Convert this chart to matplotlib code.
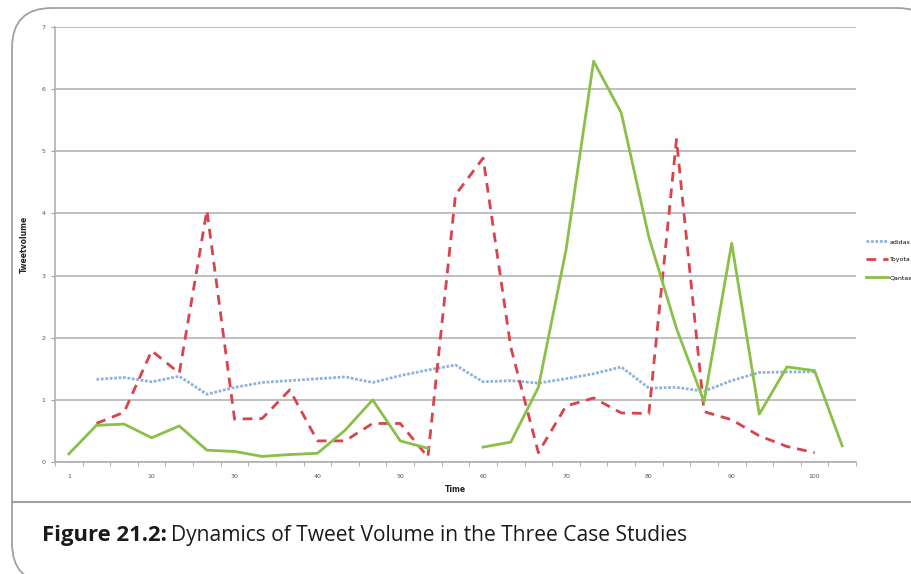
import matplotlib.pyplot as plt
import numpy as np
from matplotlib.patches import FancyBboxPatch

# data (29 time steps, None = no value)
tick_labels = ["1", "10", "30", "40", "50", "60", "70", "80", "90", "100"]
adidas = [None, 1.33, 1.36, 1.29, 1.38, 1.09, 1.20, 1.28, 1.31, 1.34,
          1.37, 1.28, 1.39, 1.48, 1.56, 1.29, 1.31, 1.27, 1.34, 1.42,
          1.53, 1.19, 1.20, 1.14, 1.31, 1.44, 1.45, 1.45, None]
toyota = [None, 0.62, 0.80, 1.79, 1.43, 4.05, 0.69, 0.70, 1.16, 0.34,
          0.34, 0.62, 0.62, 0.08, 4.30, 4.89, 1.85, 0.15, 0.90, 1.03,
          0.79, 0.78, 5.19, 0.81, 0.68, 0.42, 0.25, 0.15, None]
qantas = [0.13, 0.59, 0.61, 0.39, 0.58, 0.19, 0.17, 0.09, 0.12, 0.14,
          0.51, 1.00, 0.34, 0.22, None, 0.24, 0.32, 1.20, 3.41, 6.45,
          5.62, 3.62, 2.15, 0.97, 3.52, 0.77, 1.53, 1.47, 0.26]

def arr(v):
    return np.array([np.nan if a is None else a for a in v], dtype=float)

W, H = 912, 574
fig = plt.figure(figsize=(W / 100, H / 100), dpi=100)

# page frame + caption
bg = fig.add_axes([0, 0, 1, 1])
bg.set_xlim(0, W)
bg.set_ylim(H, 0)
bg.axis("off")
bg.add_patch(FancyBboxPatch((12, 8), 925, 575, boxstyle="round,pad=0,rounding_size=40",
                            fc="white", ec="#a0a0a0", lw=1.3))
bg.plot([12, W], [502, 502], color="#a0a0a0", lw=1.5)
t1 = bg.text(42, 536, "Figure 21.2:", fontsize=15.8, fontweight="bold", family="Open Sans",
             va="center", ha="left", color="#1a1a1a")
fig.canvas.draw()
bb = t1.get_window_extent()
bg.text(bb.x1 + 4, 536, "Dynamics of Tweet Volume in the Three Case Studies", fontsize=15.1,
        family="Open Sans", va="center", ha="left", color="#1a1a1a")

# chart
ax = fig.add_axes([55 / W, (H - 462) / H, (856 - 55) / W, (462 - 27) / H])
ax.patch.set_alpha(0)
x = np.arange(len(qantas))

ax.plot(x, arr(adidas), color="#8fb2da", lw=2, ls=(0, (1, 0.6)), label="adidas")
ax.plot(x, arr(toyota), color="#d8434c", lw=2, ls=(0, (3.5, 2.5)), label="Toyota")
ax.plot(x, arr(qantas), color="#8cbf47", lw=2, label="Qantas")

ax.set_xlim(-0.5, len(x) - 0.5)
ax.set_ylim(0, 7)
ax.set_yticks(range(8))
ax.yaxis.grid(True, color="#b4b4b4", lw=1.2)
ax.set_axisbelow(True)
ax.set_xticks(np.arange(0, 30, 3))
ax.set_xticklabels(tick_labels)
ax.set_xticks(np.arange(-0.5, len(x)), minor=True)
ax.tick_params(axis="x", which="major", length=0, labelsize=4.5, pad=9, labelcolor="#555555")
ax.tick_params(axis="x", which="minor", length=3, color="#a0a0a0", direction="out")
ax.tick_params(axis="y", length=3, color="#a0a0a0", labelsize=4.5, labelcolor="#555555", pad=4)
for s in ("top", "right"):
    ax.spines[s].set_visible(False)
for s in ("left", "bottom"):
    ax.spines[s].set_color("#b0b0b0")
    ax.spines[s].set_linewidth(1.2)

ax.set_xlabel("Time", fontsize=5.5, fontweight="bold", labelpad=4, color="#222222")
ax.set_ylabel("Tweetvolume", fontsize=5.5, fontweight="bold", labelpad=9, color="#222222")

ax.legend(loc="center left", bbox_to_anchor=(1.009, 0.465), frameon=False, fontsize=4.5,
          handlelength=3.6, handletextpad=0.3, labelspacing=2.0, borderaxespad=0)

fig.savefig("out.png", dpi=100)
